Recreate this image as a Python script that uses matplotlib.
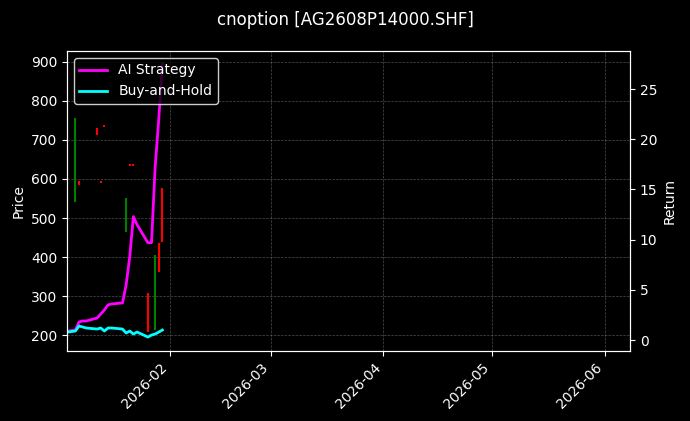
import matplotlib
matplotlib.use("Agg")
import matplotlib.pyplot as plt
import matplotlib.dates as mdates
import numpy as np
import pandas as pd

dates = pd.to_datetime(["2026-01-04","2026-01-06","2026-01-07","2026-01-08","2026-01-09",
 "2026-01-12","2026-01-13","2026-01-14","2026-01-15","2026-01-16",
 "2026-01-19","2026-01-20","2026-01-21","2026-01-22","2026-01-23",
 "2026-01-26","2026-01-27","2026-01-28","2026-01-29","2026-01-30"])
c_low  = [np.nan,541,585,np.nan,np.nan,712,590,733,np.nan,np.nan,np.nan,464,634,634,np.nan,208,np.nan,213,362,438]
c_high = [np.nan,756,595,np.nan,np.nan,730,594,737,np.nan,np.nan,np.nan,551,638,638,np.nan,308,np.nan,405,436,577]
c_up   = [0,1,0,0,0,0,0,0,0,0,0,1,0,0,0,0,0,1,0,0]
ai_ret = [0.9,1.0,1.8,1.9,1.9,2.2,2.6,3.0,3.5,3.6,3.7,5.5,8.3,12.3,11.5,9.7,9.7,17.2,22.0,27.5]
bh_ret = [0.8,0.9,1.4,1.3,1.2,1.1,1.2,0.9,1.2,1.2,1.1,0.7,0.9,0.6,0.8,0.3,0.5,0.6,0.8,1.0]

plt.rcParams['font.family'] = ['DejaVu Sans']
fig = plt.figure(figsize=(6.9, 4.21), dpi=100, facecolor='black')
ax = fig.add_axes([0.097, 0.166, 0.816, 0.713], facecolor='black')
for d, lo, hi, up in zip(dates, c_low, c_high, c_up):
    if np.isnan(lo):
        continue
    ax.vlines(d, lo, hi, color='green' if up else 'red', linewidth=1.5)
ax.set_ylim(159, 928)
ax.set_ylabel("Price", color='white')
ax.set_xlim(pd.Timestamp("2026-01-03 16:00"), pd.Timestamp("2026-06-08"))
ax.xaxis.set_major_locator(mdates.MonthLocator())
ax.xaxis.set_major_formatter(mdates.DateFormatter("%Y-%m"))
plt.setp(ax.get_xticklabels(), rotation=45, ha='right')
ax.grid(True, color='gray', linestyle='--', linewidth=0.5, alpha=0.6)

ax2 = ax.twinx()
l1, = ax2.plot(dates, ai_ret, color='magenta', linewidth=2, label='AI Strategy')
l2, = ax2.plot(dates, bh_ret, color='cyan', linewidth=2, label='Buy-and-Hold')
ax2.set_ylim(-1.1, 28.8)
ax2.set_ylabel("Return", color='white')

for a in (ax, ax2):
    a.tick_params(colors='white')
    for s in a.spines.values():
        s.set_color('white')
leg = ax2.legend(handles=[l1, l2], loc='upper left', facecolor='black', edgecolor='white')
for t in leg.get_texts():
    t.set_color('white')
fig.suptitle("cnoption [AG2608P14000.SHF]", color='white', y=0.975)
fig.savefig("out.png", dpi=100, facecolor='black')
